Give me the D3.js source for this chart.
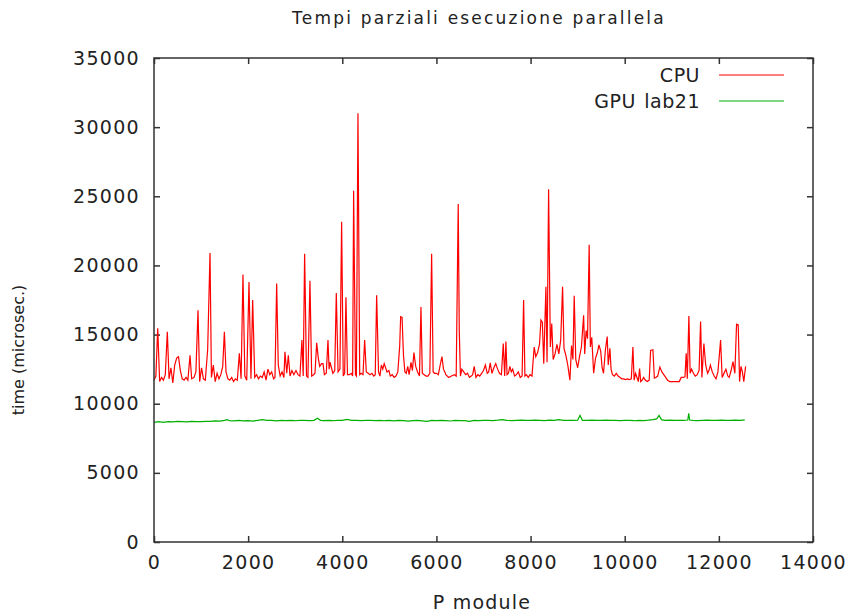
<!DOCTYPE html>
<html>
<head>
<meta charset="utf-8">
<script src="https://cdn.jsdelivr.net/npm/d3@7"></script>
<style>
  body { margin: 0; background: #fff; }
  svg text { font-family: "DejaVu Sans", sans-serif; fill: #222; }
</style>
</head>
<body>
<svg id="chart" width="849" height="614"></svg>
<script>
// CPU partial times (P module, microseconds)
var cpuData = [
  [0,11700],[40,12000],[79,15450],[120,11600],[160,11900],[200,11700],[240,12100],[283,15200],[320,11800],[360,12600],
  [400,11500],[440,12800],[482,13300],[520,13400],[560,12400],[600,11800],[640,11700],[680,11900],[720,11700],[765,13500],
  [800,11800],[850,11900],[890,12300],[935,16750],[970,11600],[1010,12600],[1050,11800],[1090,11700],[1140,13900],[1190,20900],
  [1220,11900],[1260,12800],[1300,11600],[1340,12200],[1380,11800],[1420,12100],[1460,12700],[1495,15200],[1530,12300],[1570,11800],
  [1610,11700],[1650,11900],[1690,11600],[1730,11800],[1770,11700],[1813,13650],[1850,11800],[1890,19350],[1930,12000],[1970,11700],
  [2018,18800],[2060,11800],[2096,17500],[2140,11900],[2180,12100],[2220,11800],[2260,12000],[2300,11900],[2340,12300],[2380,11700],
  [2420,12500],[2460,12100],[2500,12300],[2540,11800],[2570,11900],[2606,18700],[2640,12800],[2680,12000],[2720,12300],[2760,11900],
  [2782,13750],[2820,12200],[2853,13500],[2890,12000],[2930,12400],[2970,12100],
  [3016,12400],[3060,12100],[3100,12000],[3143,14600],[3170,12000],[3200,20850],[3240,12000],[3270,11900],[3313,18900],[3350,12000],
  [3390,12100],[3420,12200],[3456,14400],[3490,13300],[3520,12700],[3560,12900],[3590,12900],[3620,12100],[3660,12200],[3696,14600],
  [3720,12500],[3740,13000],[3770,12600],[3800,12200],[3840,12400],[3873,18000],[3910,12300],[3950,12500],[3986,23150],[4020,12000],
  [4050,12200],[4078,17700],[4110,12100],[4150,12100],[4190,12200],[4220,12000],[4241,25400],[4280,12100],[4300,12000],[4333,31000],
  [4370,12100],[4400,12200],[4440,12100],[4475,14600],[4510,12300],[4550,12200],[4590,12100],[4630,12200],[4670,12000],[4700,12100],
  [4730,17850],[4770,12300],[4800,12000],[4830,12800],[4860,12500],[4890,12900],[4920,12600],[4950,12300],[4990,12400],[5020,12000],
  [5060,12100],[5100,11900],[5140,12000],[5180,12300],[5220,14200],[5240,16300],[5270,16250],[5300,13500],[5330,12300],[5360,12200],
  [5390,12700],[5420,12100],[5460,13000],[5490,12400],[5522,13700],[5560,12700],[5600,12300],[5640,12000],[5671,17000],[5700,12200],
  [5740,12100],[5780,12000],[5820,12000],[5860,12200],[5898,20850],[5930,12300],[5960,12200],[6000,12200],[6040,12100],[6080,12800],
  [6117,13400],[6150,12500],[6190,12200],
  [6200,12100],[6260,11900],[6320,12000],[6380,12100],[6420,12000],[6463,24450],[6485,15300],[6510,12000],[6540,12500],[6580,12300],
  [6620,12100],[6660,12200],[6700,11900],[6740,12000],[6770,12100],[6803,12700],[6840,11900],[6880,12100],[6920,12000],[6960,12200],
  [7000,12400],[7040,12800],[7080,12200],[7110,12300],[7143,12950],[7180,12200],[7220,12600],[7260,12900],[7300,12500],[7340,12200],
  [7380,12100],[7420,14350],[7450,12000],[7476,14500],[7500,12100],[7530,12200],[7560,12700],[7590,12300],[7620,12500],[7660,12000],
  [7700,12100],[7740,12300],[7780,11900],[7820,12000],[7852,17500],[7880,12000],[7910,12100],[7950,11900],[7990,12100],[8030,12000],
  [8077,14100],[8110,13400],[8150,13700],[8190,14300],[8220,16050],[8250,15900],[8280,12900],[8326,18450],[8350,13000],[8383,25500],
  [8420,14100],[8450,15800],[8480,13200],[8520,13600],[8560,14300],[8600,13600],[8640,14600],[8680,18450],[8710,14000],[8750,13500],
  [8790,12800],[8836,11700],[8870,14200],[8900,13200],[8927,17800],[8960,13200],[9000,12600],[9040,13400],[9080,14100],[9127,16400],
  [9150,13600],[9180,15300],[9210,14700],[9245,21500],[9270,14100],[9300,14800],[9340,12200],[9380,13300],[9420,13700],
  [9452,14250],[9490,13800],[9520,12600],[9550,12200],[9590,13900],[9628,14850],[9650,12800],[9685,14000],[9710,12500],[9740,12100],
  [9780,12000],[9820,12200],[9860,12000],[9900,11900],[9940,11800],[9980,11800],[10018,11750],[10060,11800],[10100,11750],[10140,11800],
  [10174,14100],[10200,11700],[10230,12200],[10260,11900],[10290,11600],[10316,12550],[10340,11600],[10370,11700],[10400,11900],[10440,11700],
  [10480,11600],[10520,11700],[10550,13850],[10599,13900],[10630,11850],[10660,11900],[10700,12000],[10747,12650],[10790,12300],[10830,12100],
  [10870,11900],[10910,11700],[10960,11600],[11010,11600],[11060,11600],[11110,11600],[11160,11600],[11200,11900],[11240,11900],[11280,11950],
  [11306,13650],[11330,11800],[11363,16350],[11390,12200],[11420,12500],[11460,12200],[11500,12000],[11540,12100],[11580,12400],[11612,15950],
  [11640,11900],[11682,14350],[11720,12800],[11760,12200],[11790,12400],[11820,12800],[11860,12300],[11900,12000],[11940,11800],[11980,12300],
  [12037,14600],[12070,11900],[12110,12200],[12150,12500],[12190,12000],[12220,11900],[12260,12400],[12300,13050],[12340,12200],[12376,15750],
  [12411,15700],[12440,11600],[12470,12700],[12500,12300],[12530,11600],[12568,12700]
];

// GPU lab21 partial times
var gpuData = [
  [0,8650],[100,8700],[200,8650],[300,8700],[400,8680],[500,8720],[600,8700],[700,8680],[800,8720],[900,8700],
  [1000,8710],[1100,8730],[1200,8720],[1300,8760],[1400,8740],[1500,8800],[1550,8850],[1600,8780],[1700,8760],[1800,8790],
  [1900,8760],[2000,8780],[2100,8740],[2200,8790],[2300,8850],[2400,8800],[2500,8790],[2600,8760],[2700,8800],[2800,8780],
  [2900,8790],[3000,8770],[3100,8800],[3200,8790],[3300,8780],[3400,8800],[3470,8950],[3540,8800],[3600,8780],[3700,8790],
  [3800,8770],[3900,8800],[4000,8800],[4100,8870],[4200,8790],[4300,8800],[4400,8780],[4500,8790],[4600,8800],[4700,8780],
  [4800,8800],[4900,8770],[5000,8790],[5100,8760],[5200,8800],[5300,8780],[5400,8740],[5500,8780],[5600,8800],[5700,8760],
  [5800,8720],[5900,8790],[6000,8780],[6100,8790],[6200,8770],[6300,8750],[6400,8790],[6500,8770],[6600,8780],[6700,8730],
  [6800,8790],[6900,8780],[7000,8790],[7100,8800],[7200,8780],[7300,8810],[7400,8850],[7500,8800],[7600,8780],[7700,8800],
  [7800,8820],[7900,8790],[8000,8800],[8100,8810],[8200,8800],[8300,8780],[8400,8820],[8500,8800],[8600,8850],[8700,8790],
  [8800,8800],[8900,8790],[9000,8810],[9050,9150],[9100,8800],[9200,8800],[9300,8820],[9400,8790],[9500,8800],[9600,8810],
  [9700,8790],[9800,8800],[9900,8780],[10000,8800],[10100,8790],[10200,8770],[10300,8800],[10400,8780],[10500,8810],[10600,8850],
  [10680,8900],[10730,9150],[10780,8850],[10850,8800],[10950,8810],[11050,8800],[11150,8800],[11250,8800],[11340,8820],[11360,9300],
  [11380,8820],[11450,8800],[11550,8780],[11650,8800],[11750,8810],[11850,8790],[11950,8800],[12050,8820],[12150,8800],[12250,8790],
  [12350,8810],[12450,8800],[12550,8830]
];

var xTicks = [0, 2000, 4000, 6000, 8000, 10000, 12000, 14000];
var yTicks = [0, 5000, 10000, 15000, 20000, 25000, 30000, 35000];
var seriesNames = ["CPU", "GPU lab21"];
var seriesColors = ["#ff0000", "#00b000"];

var svg = d3.select("#chart");
var plotLeft = 154, plotRight = 813, plotTop = 58, plotBottom = 542;

var x = d3.scaleLinear().domain([0, 14000]).range([plotLeft, plotRight]);
var y = d3.scaleLinear().domain([0, 35000]).range([plotBottom, plotTop]);

// ticks, mirrored on all four sides, pointing inward
var tl = 6;
svg.append("g").attr("transform", "translate(0," + plotBottom + ")")
  .call(d3.axisBottom(x).tickValues(xTicks).tickSize(-tl).tickPadding(14).tickFormat(d3.format("d")))
  .call(function(g){ g.select(".domain").remove(); });
svg.append("g").attr("transform", "translate(0," + plotTop + ")")
  .call(d3.axisTop(x).tickValues(xTicks).tickSize(-tl).tickFormat(""))
  .call(function(g){ g.select(".domain").remove(); });
svg.append("g").attr("transform", "translate(" + plotLeft + ",0)")
  .call(d3.axisLeft(y).tickValues(yTicks).tickSize(-tl).tickPadding(14).tickFormat(d3.format("d")))
  .call(function(g){ g.select(".domain").remove(); });
svg.append("g").attr("transform", "translate(" + plotRight + ",0)")
  .call(d3.axisRight(y).tickValues(yTicks).tickSize(-tl).tickFormat(""))
  .call(function(g){ g.select(".domain").remove(); });

svg.selectAll(".tick line").attr("stroke", "#333").attr("stroke-width", 1.5);
svg.selectAll(".tick text")
  .style("font-family", "DejaVu Sans, sans-serif")
  .style("font-size", "19px")
  .style("letter-spacing", "1.3px")
  .attr("fill", "#222");

// lines
var line = d3.line()
  .x(function(d) { return x(d[0]); })
  .y(function(d) { return y(d[1]); });

var allData = [cpuData, gpuData];
allData.forEach(function(data, i) {
  svg.append("path")
    .datum(data)
    .attr("d", line)
    .attr("fill", "none")
    .attr("stroke", seriesColors[i])
    .attr("stroke-width", 1.2)
    .attr("stroke-linejoin", "miter");
});

// frame
svg.append("rect")
  .attr("x", plotLeft).attr("y", plotTop)
  .attr("width", plotRight - plotLeft).attr("height", plotBottom - plotTop)
  .attr("fill", "none").attr("stroke", "#333").attr("stroke-width", 1.5);

// legend
var legY = [75, 101];
seriesNames.forEach(function(name, i) {
  svg.append("text")
    .attr("x", 700).attr("y", legY[i] + 7)
    .attr("text-anchor", "end")
    .style("font-size", "19px")
    .style("letter-spacing", "0.5px")
    .style("word-spacing", "2px")
    .text(name);
  svg.append("line")
    .attr("x1", 719).attr("x2", 784)
    .attr("y1", legY[i]).attr("y2", legY[i])
    .attr("stroke", seriesColors[i]).attr("stroke-width", 1.2);
});

// title and axis labels
svg.append("text")
  .attr("x", 479).attr("y", 24)
  .attr("text-anchor", "middle")
  .style("font-size", "17px")
  .style("letter-spacing", "2.2px")
  .text("Tempi parziali esecuzione parallela");

svg.append("text")
  .attr("x", 482).attr("y", 609)
  .attr("text-anchor", "middle")
  .style("font-size", "19px")
  .style("letter-spacing", "1.2px")
  .text("P module");

svg.append("text")
  .attr("transform", "translate(24,350) rotate(-90)")
  .attr("text-anchor", "middle")
  .style("font-size", "16px")
  .style("letter-spacing", "0px")
  .text("time (microsec.)");
</script>
</body>
</html>
